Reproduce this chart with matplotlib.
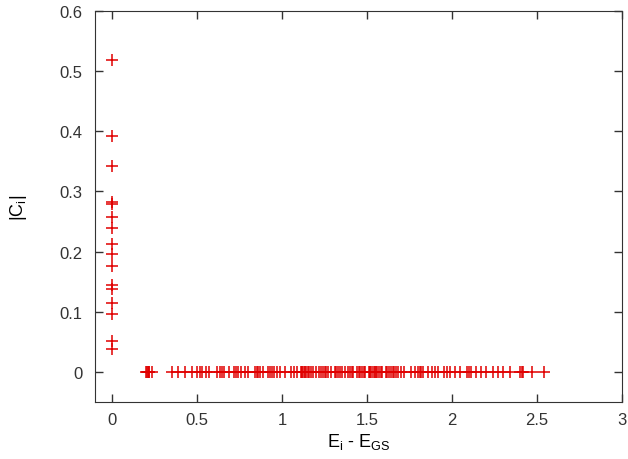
import matplotlib
matplotlib.use("Agg")
import matplotlib.pyplot as plt

# ground-state-like weights, all at E_i - E_GS = 0
c_gs = [0.518, 0.392, 0.343, 0.282, 0.279, 0.258, 0.240, 0.213, 0.196,
        0.176, 0.145, 0.138, 0.115, 0.096, 0.051, 0.038]

# excited states with |C_i| = 0
e_exc = [0.20, 0.205, 0.21, 0.215, 0.22, 0.235,
         0.35, 0.39, 0.43, 0.47, 0.50, 0.52, 0.53, 0.55, 0.57,
         0.62, 0.635, 0.645, 0.66, 0.69, 0.72, 0.73, 0.74, 0.76, 0.78, 0.80,
         0.84, 0.85, 0.86, 0.87, 0.89, 0.92, 0.93, 0.94, 0.95, 0.97, 0.99,
         1.02, 1.05, 1.07, 1.09, 1.11, 1.115, 1.12, 1.13, 1.135, 1.14, 1.15,
         1.16, 1.17, 1.18, 1.20, 1.22, 1.23, 1.24, 1.25, 1.26, 1.27, 1.29,
         1.31, 1.32, 1.33, 1.34, 1.35, 1.37, 1.39, 1.40, 1.41, 1.42, 1.44,
         1.45, 1.46, 1.47, 1.48, 1.49,
         1.51, 1.515, 1.52, 1.53, 1.54, 1.545, 1.55, 1.56, 1.57, 1.58, 1.59,
         1.61, 1.62, 1.63, 1.64, 1.65, 1.66, 1.67, 1.68, 1.70, 1.72,
         1.76, 1.78, 1.80, 1.81, 1.82, 1.83, 1.86, 1.88, 1.90, 1.92, 1.95,
         1.97, 1.99,
         2.02, 2.05, 2.09, 2.10, 2.11, 2.14, 2.17, 2.20, 2.24, 2.27, 2.30,
         2.34, 2.40, 2.41, 2.42, 2.47, 2.54]

xticks = [0, 0.5, 1, 1.5, 2, 2.5, 3]
xticklabels = ["0", "0.5", "1", "1.5", "2", "2.5", "3"]
yticks = [0, 0.1, 0.2, 0.3, 0.4, 0.5, 0.6]
yticklabels = ["0", "0.1", "0.2", "0.3", "0.4", "0.5", "0.6"]

plt.rcParams['font.family'] = ['Liberation Sans', 'DejaVu Sans']

fig = plt.figure(figsize=(6.28, 4.60), dpi=100)
ax = fig.add_axes([95/628, 1-403/460, (622-95)/628, (403-12)/460])

ax.plot([0]*len(c_gs), c_gs, '+', color='#e00000', ms=8, mew=1.1)
ax.plot(e_exc, [0]*len(e_exc), '+', color='#e00000', ms=8, mew=1.1)

ax.set_xlim(-0.1, 3)
ax.set_ylim(-0.05, 0.6)
ax.set_xticks(xticks)
ax.set_xticklabels(xticklabels)
ax.set_yticks(yticks)
ax.set_yticklabels(yticklabels)
ax.tick_params(direction='in', length=6, width=1, labelsize=12,
               top=True, right=True, colors='#333333')
ax.tick_params(axis='y', pad=9)
ax.tick_params(axis='x', pad=7)
for s in ax.spines.values():
    s.set_color('#333333')

ax.set_xlabel(r"E$_\mathregular{i}$ - E$_\mathregular{GS}$", fontsize=13, labelpad=3)
ax.set_ylabel(r"|C$_\mathregular{i}$|", fontsize=13, labelpad=22)

fig.savefig("out.png", dpi=100)
